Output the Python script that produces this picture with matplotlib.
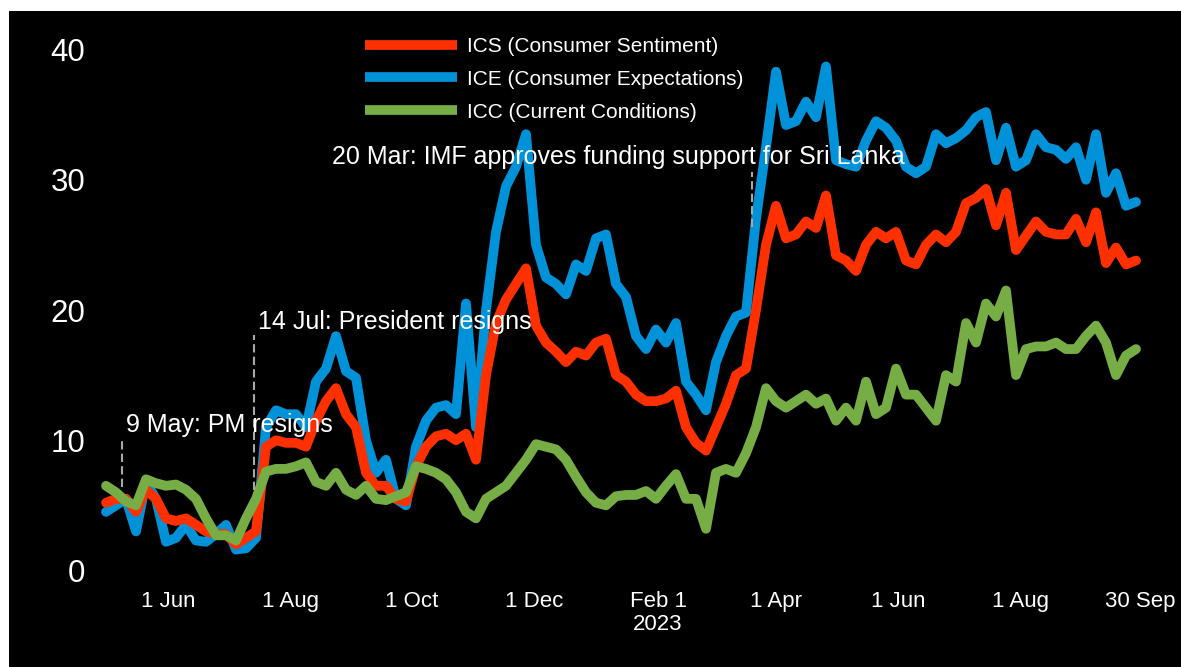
#!/usr/bin/env python3
import numpy as np
import pandas as pd
import matplotlib
matplotlib.use("Agg")
import matplotlib.pyplot as plt
import matplotlib.dates as mdates
from matplotlib.patches import Rectangle

plt.rcParams['font.family'] = ['Liberation Sans', 'DejaVu Sans']

# index readings, one every 5 days from 1 May 2022
ics = [5.2, 5.5, 5.5, 4.5, 6.2, 5.5, 4.0, 3.8, 4.0, 3.5,
       3.0, 2.8, 2.8, 2.0, 2.5, 3.0, 9.5, 10.0, 9.8, 9.8,
       9.5, 11.5, 13.0, 14.0, 12.0, 11.0, 7.5, 6.5, 6.5, 5.5,
       5.3, 8.0, 9.5, 10.3, 10.5, 10.0, 10.5, 8.5, 15.0, 19.0,
       20.8, 22.0, 23.2, 18.8, 17.5, 16.8, 16.0, 16.8, 16.5, 17.5,
       17.8, 15.0, 14.5, 13.5, 13.0, 13.0, 13.2, 13.8, 11.0, 9.8,
       9.2, 11.0, 12.8, 15.0, 15.5, 20.0, 25.0, 28.0, 25.5, 25.8,
       26.8, 26.3, 28.8, 24.2, 23.8, 23.0, 25.0, 26.0, 25.5, 26.0,
       23.8, 23.5, 25.0, 25.8, 25.2, 26.0, 28.2, 28.6, 29.3, 26.5,
       29.0, 24.6, 25.7, 26.8, 26.0, 25.8, 25.8, 27.0, 25.2, 27.5,
       23.6, 24.8, 23.5, 23.8]
ice = [4.5, 5.0, 5.5, 3.0, 6.8, 5.5, 2.2, 2.5, 3.5, 2.3,
       2.2, 2.8, 3.5, 1.6, 1.7, 2.5, 11.0, 12.3, 12.0, 12.0,
       11.0, 14.5, 15.5, 18.0, 15.3, 14.8, 10.0, 7.5, 8.5, 5.5,
       5.0, 9.5, 11.5, 12.5, 12.7, 12.0, 20.5, 11.0, 20.0, 26.0,
       29.5, 31.0, 33.5, 25.0, 22.5, 22.0, 21.2, 23.5, 23.0, 25.5,
       25.8, 22.0, 21.0, 18.0, 17.0, 18.5, 17.5, 19.0, 14.5, 13.5,
       12.3, 16.0, 18.0, 19.5, 19.8, 27.0, 32.5, 38.3, 34.2, 34.5,
       36.0, 34.8, 38.7, 31.5, 31.2, 31.0, 33.0, 34.5, 34.0, 33.0,
       31.0, 30.5, 31.0, 33.5, 32.8, 33.2, 33.8, 34.8, 35.2, 31.5,
       34.0, 31.0, 31.5, 33.5, 32.5, 32.3, 31.6, 32.5, 30.0, 33.5,
       29.0, 30.5, 28.0, 28.3]
icc = [6.5, 6.0, 5.3, 5.0, 7.0, 6.7, 6.5, 6.6, 6.2, 5.5,
       4.0, 2.7, 2.7, 2.3, 4.0, 5.5, 7.6, 7.8, 7.8, 8.0,
       8.3, 6.8, 6.5, 7.5, 6.2, 5.8, 6.5, 5.5, 5.4, 5.7,
       6.0, 8.0, 7.8, 7.5, 7.0, 6.0, 4.5, 4.0, 5.5, 6.0,
       6.5, 7.5, 8.5, 9.7, 9.5, 9.3, 8.5, 7.2, 6.0, 5.2,
       5.0, 5.7, 5.8, 5.8, 6.1, 5.5, 6.5, 7.4, 5.5, 5.5,
       3.2, 7.5, 7.8, 7.5, 9.0, 11.0, 14.0, 13.0, 12.5, 13.0,
       13.5, 12.8, 13.2, 11.5, 12.5, 11.5, 14.5, 12.0, 12.5, 15.5,
       13.5, 13.5, 12.5, 11.5, 15.0, 14.5, 19.0, 17.5, 20.5, 19.5,
       21.5, 15.0, 17.0, 17.2, 17.2, 17.5, 17.0, 17.0, 18.0, 18.8,
       17.5, 15.0, 16.5, 17.0]
dates = pd.date_range('2022-05-01', periods=len(ics), freq='5D')

series_labels = ['ICS (Consumer Sentiment)', 'ICE (Consumer Expectations)',
                 'ICC (Current Conditions)']
tick_dates = ['2022-06-01', '2022-08-01', '2022-10-01', '2022-12-01', '2023-02-01',
              '2023-04-01', '2023-06-01', '2023-08-01', '2023-09-30']
tick_labels = ['1 Jun', '1 Aug', '1 Oct', '1 Dec', 'Feb 1\n2023',
               '1 Apr', '1 Jun', '1 Aug', '30 Sep']
events = [('2022-05-09', 'PM resigns'), ('2022-07-14', 'President resigns'),
          ('2023-03-20', 'IMF approves funding support for Sri Lanka')]


def main():
    W, H = 1181, 667
    fig = plt.figure(figsize=(W / 100, H / 100), dpi=100, facecolor='white')
    fig.patches.append(Rectangle((9 / W, 0), 1, (H - 11) / H, transform=fig.transFigure,
                                 facecolor='black', edgecolor='none', zorder=-10))

    ax = fig.add_axes([95 / W, (H - 590) / H, 1070 / W, 560 / H])
    ax.set_facecolor('none')
    for s in ax.spines.values():
        s.set_visible(False)

    red, blue, green = '#ff3000', '#0092d8', '#77ad45'
    lw = 7
    l_ice, = ax.plot(dates, ice, color=blue, lw=lw, zorder=2,
                     solid_joinstyle='round', solid_capstyle='round')
    l_ics, = ax.plot(dates, ics, color=red, lw=lw, zorder=3,
                     solid_joinstyle='round', solid_capstyle='round')
    l_icc, = ax.plot(dates, icc, color=green, lw=lw, zorder=4,
                     solid_joinstyle='round', solid_capstyle='round')

    # annotations: dashed marker + text
    jun1 = mdates.date2num(pd.Timestamp('2022-06-01'))
    dash = dict(color='#a8a8a8', lw=1.5, ls=(0, (4, 2)), zorder=5)
    ax.plot([pd.Timestamp(events[0][0])] * 2, [6.4, 10.2], **dash)
    ax.plot([pd.Timestamp(events[1][0])] * 2, [6.2, 18.1], **dash)
    ax.plot([pd.Timestamp(events[2][0])] * 2, [26.4, 30.6], **dash)
    txt = dict(color='white', fontsize=18, ha='left', va='center', zorder=6)
    ax.text(pd.Timestamp('2022-05-11'), 11.15, '9 May: ' + events[0][1], **txt)
    ax.text(pd.Timestamp('2022-07-16'), 19.05, '14 Jul: ' + events[1][1], **txt)
    ax.text(pd.Timestamp('2022-08-22'), 31.75, '20 Mar: ' + events[2][1], **txt)

    ax.set_xlim(jun1 - 36.5, jun1 + 498.5)
    ax.set_ylim(-1.5, 41.5)
    ax.set_yticks([0, 10, 20, 30, 40])
    ax.set_xticks([pd.Timestamp(d) for d in tick_dates])
    ax.set_xticklabels(tick_labels)
    ax.tick_params(axis='y', length=0, pad=7, labelsize=22.5, labelcolor='white')
    ax.tick_params(axis='x', length=0, pad=1, labelsize=16, labelcolor='white')
    for t in ax.get_xticklabels():
        t.set_linespacing(1.1)

    leg = ax.legend([l_ics, l_ice, l_icc], series_labels, loc='upper left',
                    bbox_to_anchor=(365 / W, (H - 37) / H), bbox_transform=fig.transFigure,
                    frameon=False, fontsize=15, handlelength=4.4, handletextpad=0.5,
                    labelspacing=0.66, borderpad=0, borderaxespad=0)
    for t in leg.get_texts():
        t.set_color('white')
    for h in leg.get_lines():
        h.set_linewidth(7)
        h.set_solid_capstyle('butt')

    fig.savefig('out.png', dpi=100, facecolor='white')


if __name__ == "__main__":
    main()
